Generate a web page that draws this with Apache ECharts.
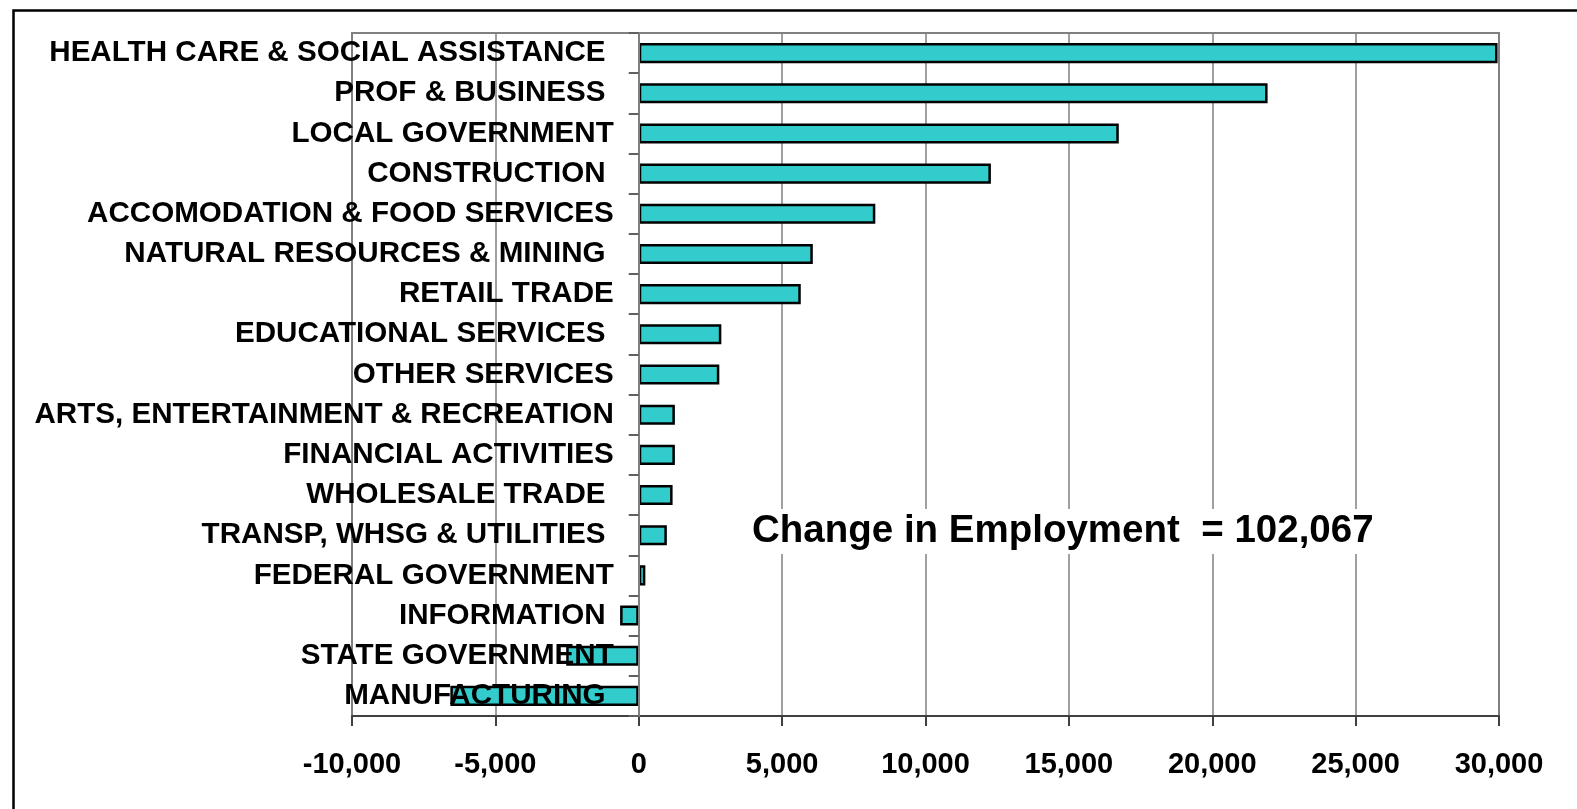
<!DOCTYPE html>
<html>
<head>
<meta charset="utf-8">
<title>Change in Employment by Industry</title>
<script src="https://cdn.jsdelivr.net/npm/echarts@6/dist/echarts.min.js"></script>
<style>
  html, body { margin: 0; padding: 0; background: #ffffff; }
  #chart { width: 1577px; height: 809px; }
</style>
</head>
<body>
<div id="chart"></div>
<script>
// Industry sectors, top to bottom (trailing spaces kept as in the source labels)
const industries = [
  'HEALTH CARE & SOCIAL ASSISTANCE ',
  'PROF & BUSINESS ',
  'LOCAL GOVERNMENT',
  'CONSTRUCTION ',
  'ACCOMODATION & FOOD SERVICES',
  'NATURAL RESOURCES & MINING ',
  'RETAIL TRADE',
  'EDUCATIONAL SERVICES ',
  'OTHER SERVICES',
  'ARTS, ENTERTAINMENT & RECREATION',
  'FINANCIAL ACTIVITIES',
  'WHOLESALE TRADE ',
  'TRANSP, WHSG & UTILITIES ',
  'FEDERAL GOVERNMENT',
  'INFORMATION ',
  'STATE GOVERNMENT',
  'MANUFACTURING '
];

// Change in employment for each sector
const employmentChange = [
  29950, 21930, 16740, 12280, 8250, 6070, 5650, 2880, 2810,
  1260, 1260, 1180, 980, 230, -650, -2530, -6570
];

// Value axis range and step
const axisMin = -10000;
const axisMax = 30000;
const axisStep = 5000;

const totalLabel = 'Change in Employment  = 102,067';

const fontFamily = '"Liberation Sans", Arial, Helvetica, sans-serif';

const gridLeft = 352;
const gridRight = 78;
const chartWidth = 1577;

const chart = echarts.init(document.getElementById('chart'), null, { renderer: 'canvas' });

// Category labels sit just left of the zero line rather than at the grid edge
const zeroX = gridLeft + (0 - axisMin) / (axisMax - axisMin) * (chartWidth - gridLeft - gridRight);
const labelGap = 25;

chart.setOption({
  animation: false,
  backgroundColor: '#ffffff',
  grid: {
    left: gridLeft,
    right: gridRight,
    top: 33,
    bottom: 93,
    containLabel: false,
    outerBoundsMode: 'none',
    show: true,
    borderColor: '#808080',
    borderWidth: 2,
    backgroundColor: 'transparent'
  },
  xAxis: {
    type: 'value',
    min: axisMin,
    max: axisMax,
    interval: axisStep,
    axisLine: { show: true, lineStyle: { color: '#404040', width: 2 } },
    axisTick: { show: true, length: 10, lineStyle: { color: '#404040', width: 2 } },
    splitLine: { show: true, lineStyle: { color: '#808080', width: 1.5 } },
    axisLabel: {
      margin: 34,
      color: '#000000',
      fontFamily: fontFamily,
      fontWeight: 'bold',
      fontSize: 29,
      formatter: (v) => v.toLocaleString('en-US')
    }
  },
  yAxis: {
    type: 'category',
    data: industries,
    inverse: true,
    z: 5,
    axisLine: { show: true, onZero: true, lineStyle: { color: '#808080', width: 2 } },
    axisTick: { show: true, length: 10, lineStyle: { color: '#606060', width: 2 } },
    splitLine: { show: false },
    axisLabel: {
      margin: labelGap - (zeroX - gridLeft),
      color: '#000000',
      fontFamily: fontFamily,
      fontWeight: 'bold',
      fontSize: 29.6,
      lineHeight: 34,
      padding: [5, 0, 0, 0]
    }
  },
  series: [{
    type: 'bar',
    data: employmentChange,
    barWidth: '50%',
    itemStyle: {
      color: '#33CCCC',
      borderColor: '#000000',
      borderWidth: 2.5
    }
  }],
  graphic: [
    {
      type: 'rect',
      left: 11,
      top: 8,
      silent: true,
      shape: { x: 0, y: 0, width: 1600, height: 900 },
      style: { fill: 'none', stroke: '#000000', lineWidth: 2.5 }
    },
    {
      type: 'text',
      left: 746,
      top: 509,
      z: 10,
      style: {
        text: totalLabel,
        fill: '#000000',
        font: 'bold 38.5px ' + fontFamily,
        backgroundColor: '#ffffff',
        padding: [3, 6, 3, 6]
      }
    }
  ]
});
</script>
</body>
</html>
